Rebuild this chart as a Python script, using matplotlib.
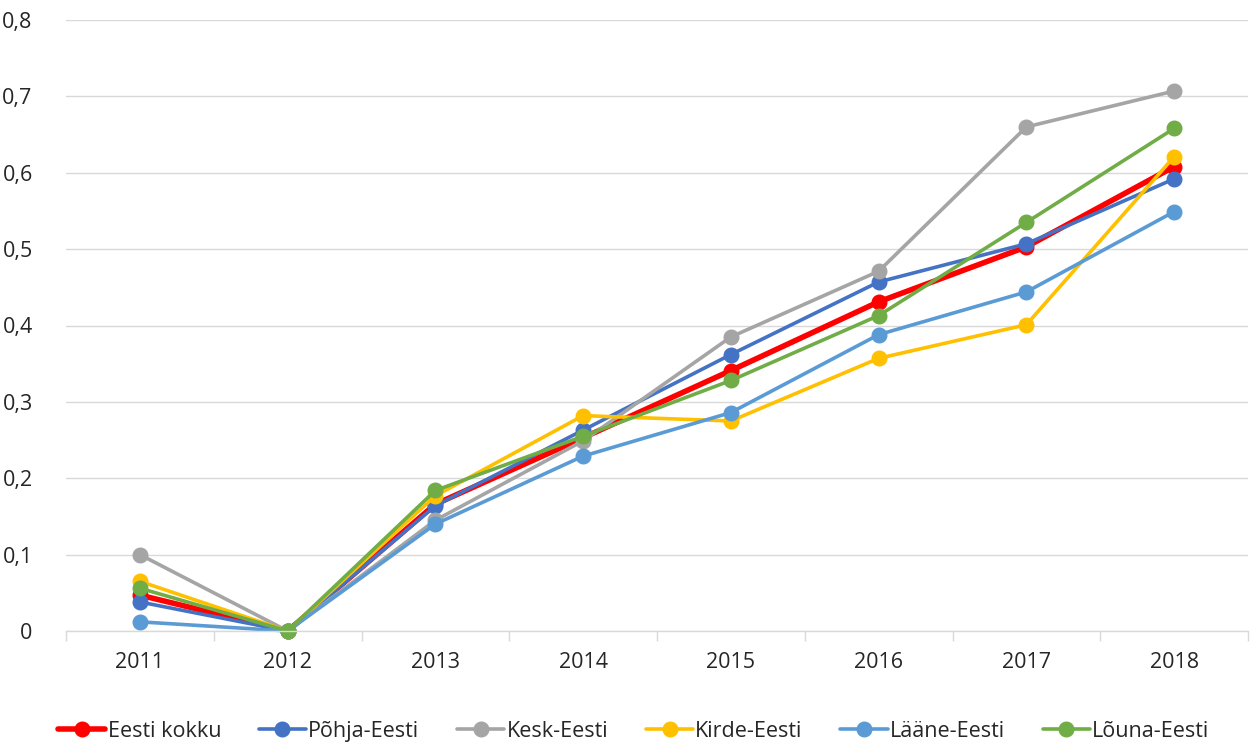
import matplotlib.pyplot as plt
import numpy as np

plt.rcParams['font.family'] = ['Open Sans', 'DejaVu Sans']

years = ['2011', '2012', '2013', '2014', '2015', '2016', '2017', '2018']
eesti_kokku = [0.047, 0.0, 0.166, 0.253, 0.341, 0.431, 0.503, 0.608]
pohja_eesti = [0.038, 0.0, 0.164, 0.263, 0.362, 0.457, 0.507, 0.592]
kesk_eesti = [0.100, 0.0, 0.145, 0.249, 0.385, 0.471, 0.660, 0.707]
kirde_eesti = [0.065, 0.0, 0.177, 0.282, 0.275, 0.357, 0.401, 0.621]
laane_eesti = [0.012, 0.0, 0.140, 0.229, 0.286, 0.388, 0.444, 0.549]
louna_eesti = [0.056, 0.0, 0.184, 0.255, 0.328, 0.413, 0.535, 0.658]

series = [
    ('Eesti kokku', eesti_kokku, '#FF0000', 4.0),
    ('Põhja-Eesti', pohja_eesti, '#4472C4', 2.6),
    ('Kesk-Eesti', kesk_eesti, '#A5A5A5', 2.6),
    ('Kirde-Eesti', kirde_eesti, '#FFC000', 2.6),
    ('Lääne-Eesti', laane_eesti, '#5B9BD5', 2.6),
    ('Lõuna-Eesti', louna_eesti, '#70AD47', 2.6),
]

fig = plt.figure(figsize=(12.5, 7.45), dpi=100)
ax = fig.add_axes([66 / 1250, 1 - 631 / 745, (1248 - 66) / 1250, (631 - 20) / 745])

x = np.arange(len(years))
for name, vals, col, lw in series:
    ax.plot(x, vals, color=col, lw=lw, marker='o', markersize=10.5, label=name,
            solid_capstyle='round', clip_on=False)

ax.set_xlim(-0.5, len(years) - 0.5)
ax.set_ylim(0, 0.8)
ax.set_yticks(np.arange(0, 0.81, 0.1))
ax.set_yticklabels(['0' if v == 0 else f'{v:.1f}'.replace('.', ',') for v in np.arange(0, 0.81, 0.1)])
ax.grid(axis='y', color='#D9D9D9', lw=1)
ax.set_axisbelow(True)
for s in ['top', 'right', 'left']:
    ax.spines[s].set_visible(False)
ax.spines['bottom'].set_color('#D9D9D9')
ax.spines['bottom'].set_linewidth(1)

ax.set_xticks(x)
ax.set_xticklabels(years)
ax.tick_params(axis='x', length=0, pad=15, labelsize=15.5, colors='#262626')
ax.set_xticks(np.arange(-0.5, len(years)), minor=True)
ax.tick_params(axis='x', which='minor', length=7, color='#D9D9D9', width=1)
ax.tick_params(axis='y', length=0, pad=24, labelsize=15.5, colors='#262626')

fig.legend(loc='lower center', bbox_to_anchor=(0.507, -0.022), ncol=6, frameon=False,
           fontsize=15.5, handlelength=2.2, columnspacing=1.75, handletextpad=0.1,
           labelcolor='#262626')

fig.savefig('out.png', dpi=100)
